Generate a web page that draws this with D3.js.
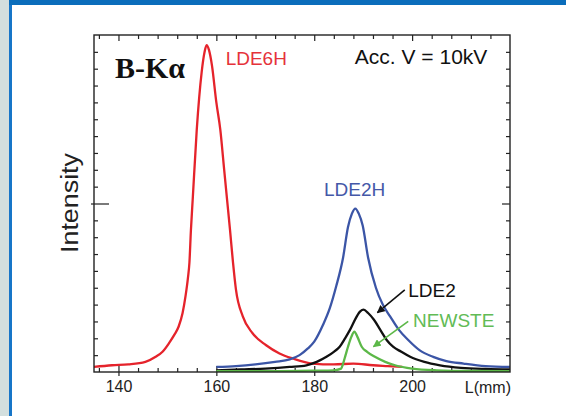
<!DOCTYPE html>
<html>
<head>
<meta charset="utf-8">
<title>B-Ka spectra</title>
<script src="https://cdn.jsdelivr.net/npm/d3@7/dist/d3.min.js"></script>
<style>
    body { margin: 0; background: #ffffff; }
    svg { display: block; font-family: "Liberation Sans", Arial, Helvetica, sans-serif; }
    .axis path { display: none; }
    .axis line { stroke: #222; stroke-width: 1.2; }
    .axis text { fill: #222; font-size: 16px; }
</style>
</head>
<body>
<svg id="chart" width="566" height="416"></svg>
<script>
// spectrometer position L (mm) and intensity (arb. units)
const lde6h = [
    [135, 0.03], [138.7, 0.04], [142, 0.045], [145.5, 0.06], [147.6, 0.09],
    [149, 0.12], [150.3, 0.17], [151.4, 0.22], [152.3, 0.27], [153.1, 0.35],
    [153.7, 0.45], [154.2, 0.56], [154.5, 0.65], [154.8, 0.84], [155.2, 1.04],
    [156.0, 1.44], [157.0, 1.78], [157.6, 1.90], [158.0, 1.94], [158.5, 1.91],
    [159.1, 1.82], [160.0, 1.60], [160.8, 1.44], [161.6, 1.20], [162.2, 1.02],
    [162.8, 0.84], [163.4, 0.65], [164.0, 0.49], [165.4, 0.33], [167.4, 0.23],
    [170.1, 0.16], [172.9, 0.11], [175.6, 0.08], [179.6, 0.05], [184, 0.045],
    [188, 0.05], [192, 0.04], [195, 0.035], [198, 0.03]
];
const lde2h = [
    [160, 0.03], [164, 0.035], [168, 0.045], [172, 0.06], [175, 0.075],
    [177, 0.10], [178.7, 0.14], [180, 0.18], [181.8, 0.28], [183.2, 0.38],
    [184.5, 0.51], [185.9, 0.68], [186.9, 0.86], [187.7, 0.94], [188.4, 0.97],
    [189.1, 0.94], [189.9, 0.87], [191.0, 0.68], [192.6, 0.50], [194, 0.40],
    [195.5, 0.33], [197.3, 0.25], [199.2, 0.19], [201.5, 0.13], [204.3, 0.09],
    [207, 0.065], [210.5, 0.05], [215, 0.035], [220, 0.03]
];
const lde2 = [
    [160, 0.01], [165, 0.015], [170, 0.02], [175, 0.03], [178.4, 0.04],
    [180.5, 0.06], [182.5, 0.09], [184, 0.12], [185.2, 0.15], [186.3, 0.20],
    [187.3, 0.25], [188.5, 0.32], [189.4, 0.36], [190.1, 0.37], [191.0, 0.35],
    [192.2, 0.31], [193.5, 0.25], [194.8, 0.19], [196.1, 0.15], [197.8, 0.12],
    [199.6, 0.09], [202.5, 0.06], [205.7, 0.04], [210, 0.025], [215, 0.018],
    [220, 0.015]
];
const newste = [
    [160, 0.005], [170, 0.005], [180, 0.008], [184, 0.01], [185.5, 0.02],
    [185.9, 0.05], [186.4, 0.10], [186.9, 0.15], [187.6, 0.21], [188.2, 0.24],
    [188.8, 0.21], [189.7, 0.15], [190.8, 0.12], [192.4, 0.09], [194.5, 0.06],
    [196.5, 0.04], [200, 0.02], [205, 0.01], [212, 0.006], [220, 0.005]
];

const xMajor = [140, 160, 180, 200];
const xMinor = [136, 144, 148, 152, 156, 164, 168, 172, 176, 184, 188, 192, 196, 204, 208, 212, 216];
const yMajor = [1];
const yMinor = [0.1, 0.2, 0.3, 0.4, 0.5, 0.6, 0.7, 0.8, 0.9, 1.1, 1.2, 1.3, 1.4, 1.5, 1.6, 1.7, 1.8, 1.9];

const series = [
    { name: 'LDE6H', data: lde6h, color: '#e5232b' },
    { name: 'LDE2H', data: lde2h, color: '#3b55a6' },
    { name: 'LDE2', data: lde2, color: '#111111' },
    { name: 'NEWSTE', data: newste, color: '#5cb848' }
];

const svg = d3.select('#chart');

// page decoration: grey strip, blue rule and blue top band
svg.append('rect').attr('x', 0).attr('y', 0).attr('width', 9).attr('height', 416).attr('fill', '#d3dfde');
svg.append('rect').attr('x', 9).attr('y', 0).attr('width', 3).attr('height', 416).attr('fill', '#1776c8');
svg.append('rect').attr('x', 9).attr('y', 0).attr('width', 557).attr('height', 5).attr('fill', '#0b6dbb');

const frame = { left: 94, right: 510, top: 35, bottom: 372 };

const x = d3.scaleLinear().domain([135, 220]).range([frame.left, frame.right]);
const y = d3.scaleLinear().domain([0, 2]).range([frame.bottom, frame.top]);

// ticks
const atBottom = `translate(0,${frame.bottom})`;
svg.append('g').attr('class', 'axis').attr('transform', atBottom)
    .call(d3.axisBottom(x).tickValues(xMinor).tickSize(-4).tickFormat(''));
svg.append('g').attr('class', 'axis').attr('transform', atBottom)
    .call(d3.axisBottom(x).tickValues(xMajor).tickSize(-6).tickFormat(''));
svg.append('g').attr('class', 'axis').attr('transform', atBottom)
    .call(d3.axisBottom(x).tickValues(xMajor).tickSize(4).tickPadding(5).tickFormat(d3.format('d')));

const atTop = `translate(0,${frame.top})`;
svg.append('g').attr('class', 'axis').attr('transform', atTop)
    .call(d3.axisTop(x).tickValues(xMinor).tickSize(-4).tickFormat(''));
svg.append('g').attr('class', 'axis').attr('transform', atTop)
    .call(d3.axisTop(x).tickValues(xMajor).tickSize(-6).tickFormat(''));

const atLeft = `translate(${frame.left},0)`;
svg.append('g').attr('class', 'axis').attr('transform', atLeft)
    .call(d3.axisLeft(y).tickValues(yMinor).tickSize(-4).tickFormat(''));
svg.append('g').attr('class', 'axis').attr('transform', atLeft)
    .call(d3.axisLeft(y).tickValues(yMajor).tickSize(-15).tickFormat(''));
svg.append('g').attr('class', 'axis').attr('transform', atLeft)
    .call(d3.axisLeft(y).tickValues(yMajor).tickSize(3).tickFormat(''));

const atRight = `translate(${frame.right},0)`;
svg.append('g').attr('class', 'axis').attr('transform', atRight)
    .call(d3.axisRight(y).tickValues(yMinor).tickSize(-4).tickFormat(''));
svg.append('g').attr('class', 'axis').attr('transform', atRight)
    .call(d3.axisRight(y).tickValues(yMajor).tickSize(-8).tickFormat(''));

// curves
svg.append('clipPath').attr('id', 'clip')
    .append('rect')
    .attr('x', frame.left).attr('y', frame.top)
    .attr('width', frame.right - frame.left).attr('height', frame.bottom - frame.top);

const line = d3.line()
    .x(d => x(d[0]))
    .y(d => y(d[1]))
    .curve(d3.curveMonotoneX);

svg.append('g').attr('clip-path', 'url(#clip)')
    .selectAll('path')
    .data(series)
    .enter()
    .append('path')
    .attr('d', d => line(d.data))
    .attr('fill', 'none')
    .attr('stroke', d => d.color)
    .attr('stroke-width', 2.3)
    .attr('stroke-linejoin', 'round');

// frame
svg.append('rect')
    .attr('x', frame.left).attr('y', frame.top)
    .attr('width', frame.right - frame.left).attr('height', frame.bottom - frame.top)
    .attr('fill', 'none')
    .attr('stroke', '#222')
    .attr('stroke-width', 1.4);

// axis titles
svg.append('text')
    .attr('x', frame.right + 1).attr('y', 393)
    .attr('text-anchor', 'end')
    .style('font-size', '16px')
    .style('fill', '#222')
    .text('L(mm)');

svg.append('text')
    .attr('transform', 'translate(78,203) rotate(-90)')
    .attr('text-anchor', 'middle')
    .attr('textLength', 100)
    .attr('lengthAdjust', 'spacingAndGlyphs')
    .style('font-size', '23px')
    .style('fill', '#222')
    .text('Intensity');

// labels inside the plot, placed in data units
const labels = [
    { text: 'B-Kα', at: [139.3, 1.745], color: '#111', size: 30, serif: true },
    { text: 'LDE6H', at: [161.9, 1.82], color: '#e5323a', size: 19 },
    { text: 'Acc. V = 10kV', at: [188.3, 1.83], color: '#111', size: 21 },
    { text: 'LDE2H', at: [182.0, 1.046], color: '#4458a8', size: 19 },
    { text: 'LDE2', at: [199.2, 0.447], color: '#111', size: 19 },
    { text: 'NEWSTE', at: [200.2, 0.269], color: '#62bb55', size: 19 }
];

svg.selectAll('text.label')
    .data(labels)
    .enter()
    .append('text')
    .attr('class', 'label')
    .attr('x', d => x(d.at[0]))
    .attr('y', d => y(d.at[1]))
    .style('font-size', d => d.size + 'px')
    .style('font-family', d => d.serif ? '"Liberation Serif", "Times New Roman", serif' : null)
    .style('font-weight', d => d.serif ? 'bold' : null)
    .style('fill', d => d.color)
    .text(d => d.text);

// arrows pointing at LDE2 and NEWSTE peaks
const arrows = [
    { from: [198.5, 0.487], to: [192.9, 0.352], color: '#111' },
    { from: [199.2, 0.30], to: [192.1, 0.15], color: '#5cb848' }
];

const defs = svg.append('defs');
arrows.forEach((a, i) => {
    defs.append('marker')
        .attr('id', 'head' + i)
        .attr('viewBox', '0 0 10 10')
        .attr('refX', 9).attr('refY', 5)
        .attr('markerWidth', 8).attr('markerHeight', 8)
        .attr('markerUnits', 'userSpaceOnUse')
        .attr('orient', 'auto')
        .append('path')
        .attr('d', 'M0,0 L10,5 L0,10 z')
        .attr('fill', a.color);
});

svg.selectAll('line.arrow')
    .data(arrows)
    .enter()
    .append('line')
    .attr('class', 'arrow')
    .attr('x1', d => x(d.from[0])).attr('y1', d => y(d.from[1]))
    .attr('x2', d => x(d.to[0])).attr('y2', d => y(d.to[1]))
    .attr('stroke', d => d.color)
    .attr('stroke-width', 1.6)
    .attr('marker-end', (d, i) => `url(#head${i})`);
</script>
</body>
</html>
